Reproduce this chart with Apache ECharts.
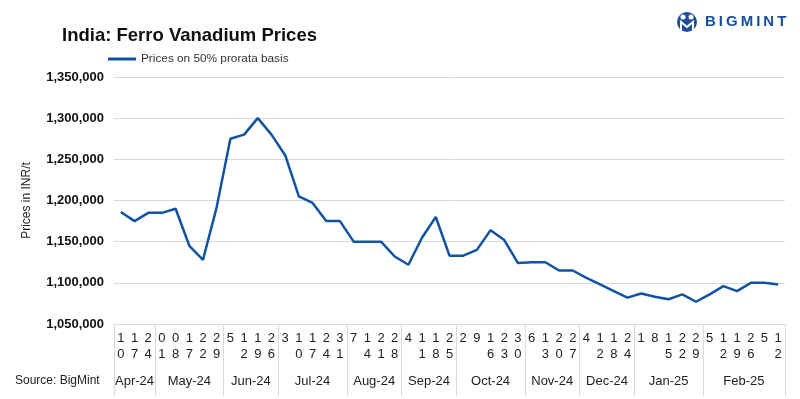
<!DOCTYPE html>
<html>
<head>
<meta charset="utf-8">
<script src="https://cdn.jsdelivr.net/npm/echarts@6/dist/echarts.min.js"></script>
<style>
  html, body { margin: 0; padding: 0; background: #fff; }
  #main { width: 800px; height: 399px; }
</style>
</head>
<body>
<div id="main"></div>
<script>
// weekly day labels (grouped under months below)
var days = ['10', '17', '24',
  '01', '08', '17', '22', '29',
  '5', '12', '19', '26',
  '3', '10', '17', '24', '31',
  '7', '14', '21', '28',
  '4', '11', '18', '25',
  '2', '9', '16', '23', '30',
  '6', '13', '20', '27',
  '4', '12', '18', '24',
  '1', '8', '15', '22', '29',
  '5', '12', '19', '26', '5', '12'];
var months = ['Apr-24', 'May-24', 'Jun-24', 'Jul-24', 'Aug-24', 'Sep-24', 'Oct-24', 'Nov-24', 'Dec-24', 'Jan-25', 'Feb-25'];
var monthCounts = [3, 5, 4, 5, 4, 4, 5, 4, 4, 5, 6];
var prices = [1186000, 1175000, 1185000, 1185000, 1190000, 1145000, 1128000, 1192000, 1275000, 1280000,
  1300000, 1280000, 1255000, 1205000, 1197000, 1175000, 1175000, 1150000, 1150000, 1150000,
  1132000, 1122000, 1155000, 1180000, 1133000, 1133000, 1140000, 1164000, 1152000, 1124000,
  1125000, 1125000, 1115000, 1115000, 1106000, 1098000, 1090000, 1082000, 1087000, 1083000,
  1080000, 1086000, 1077000, 1086000, 1096000, 1090000, 1100000, 1100000, 1098000];
var yTicks = [1050000, 1100000, 1150000, 1200000, 1250000, 1300000, 1350000];

// month boundaries and centres on a 0..n value scale
var bounds = [0];
var mids = [];
var midName = {};
monthCounts.forEach(function (c, i) {
  var s = bounds[bounds.length - 1];
  bounds.push(s + c);
  mids.push(s + c / 2);
  midName[s + c / 2] = months[i];
});

var myChart = echarts.init(document.getElementById('main'));
var font = '"Liberation Sans", Arial, sans-serif';
var grey = '#d9d9d9';

myChart.setOption({
  animation: false,
  textStyle: { fontFamily: font },
  title: {
    text: 'India: Ferro Vanadium Prices',
    left: 62,
    top: 26,
    padding: 0,
    textStyle: { fontSize: 18.5, fontWeight: 'bold', color: '#111', fontFamily: font }
  },
  legend: {
    left: 108,
    top: 53,
    padding: 0,
    icon: 'rect',
    itemWidth: 28,
    itemHeight: 3,
    textStyle: { fontSize: 11.8, color: '#333', fontFamily: font }
  },
  grid: { left: 114, right: 15, top: 77, bottom: 75 },
  xAxis: [{
    type: 'category',
    data: days,
    boundaryGap: true,
    axisLine: { show: true, lineStyle: { color: grey, width: 1 } },
    axisTick: { show: false },
    axisLabel: {
      interval: 0,
      margin: 6,
      fontSize: 13,
      lineHeight: 16,
      color: '#222',
      formatter: function (v) { return v.split('').join('\n'); }
    }
  }, {
    type: 'value',
    position: 'bottom',
    min: 0,
    max: days.length,
    axisLine: { show: false },
    splitLine: { show: false },
    axisTick: {
      show: true,
      customValues: bounds,
      length: 72,
      lineStyle: { color: grey, width: 1 }
    },
    axisLabel: {
      customValues: mids,
      margin: 51,
      fontSize: 13,
      color: '#222',
      formatter: function (v) { return midName[v] || ''; }
    }
  }],
  yAxis: {
    type: 'value',
    min: yTicks[0],
    max: yTicks[yTicks.length - 1],
    interval: 50000,
    name: 'Prices in INR/t',
    nameLocation: 'middle',
    nameGap: 81,
    nameRotate: 90,
    nameTextStyle: { fontSize: 12, color: '#222' },
    axisLine: { show: false },
    axisTick: { show: false },
    splitLine: { lineStyle: { color: grey, width: 1 } },
    axisLabel: {
      margin: 10,
      fontSize: 13,
      fontWeight: 'bold',
      color: '#111',
      formatter: function (v) { return v.toLocaleString('en-US'); }
    }
  },
  series: [{
    name: 'Prices on 50% prorata basis',
    type: 'line',
    data: prices,
    xAxisIndex: 0,
    symbol: 'none',
    lineStyle: { color: '#1252a3', width: 2.5 },
    itemStyle: { color: '#1252a3' }
  }],
  graphic: [{
    type: 'text',
    left: 15,
    top: 375,
    style: { text: 'Source: BigMint', font: '12px ' + font, fill: '#222' }
  }, {
    type: 'circle',
    shape: { cx: 687, cy: 22, r: 10 },
    style: { fill: '#1a4fa0' }
  }, {
    type: 'circle',
    shape: { cx: 683, cy: 17, r: 2.5 },
    style: { fill: '#fff' }
  }, {
    type: 'circle',
    shape: { cx: 691, cy: 17, r: 2.5 },
    style: { fill: '#fff' }
  }, {
    type: 'polyline',
    shape: { points: [[681, 30], [681, 22], [687, 27], [693, 22], [693, 30]] },
    style: { stroke: '#fff', lineWidth: 2, fill: null }
  }, {
    type: 'text',
    left: 705,
    top: 14,
    style: { text: 'B\u2009I\u2009G\u2009M\u2009I\u2009N\u2009T', font: 'bold 15px ' + font, fill: '#1a4fa0' }
  }]
});
</script>
</body>
</html>
